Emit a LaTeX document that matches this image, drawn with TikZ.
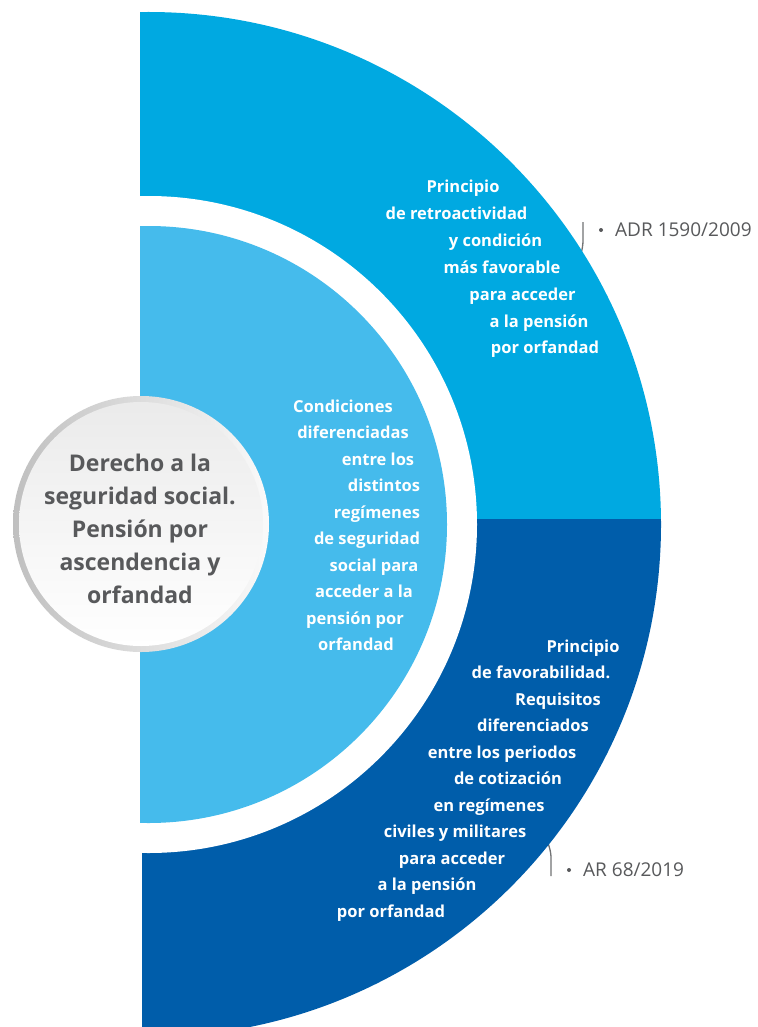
\documentclass[tikz,border=0pt]{standalone}
\usepackage{fontspec}
\setmainfont{Open Sans}
\definecolor{topblue}{HTML}{00A9E1}
\definecolor{deepblue}{HTML}{005DAA}
\definecolor{lightblue}{HTML}{45BBEC}
\definecolor{txtgrey}{HTML}{58595B}
\tikzset{
 wtxt/.style={text=white, font=\fontsize{16.5}{20}\selectfont\bfseries, inner sep=0pt, anchor=base},
 ctxt/.style={text=txtgrey, font=\fontsize{23}{30}\selectfont\bfseries, inner sep=0pt, anchor=base},
 reftxt/.style={text=txtgrey, font=\fontsize{19}{21}\selectfont, inner sep=0pt, anchor=base west},
 bracel/.style={draw=txtgrey!85, line width=1.3pt},
}
\begin{document}
\begin{tikzpicture}[x=1pt,y=-1pt]
\useasboundingbox (0,0) rectangle (757,1027);
\fill[white] (0,0) rectangle (757,1027);
% bracket lines (under the shapes)
\coordinate (b1a) at (583,222);
\coordinate (b1b) at (583,240);
\coordinate (b1c) at (577,266);
\draw[bracel] (b1a) -- (b1b) .. controls (583,250) and (580,256) .. (b1c);
\coordinate (b2a) at (543,832);
\coordinate (b2b) at (551,858);
\coordinate (b2c) at (551,876);
\draw[bracel] (b2a) .. controls (548,842) and (551,850) .. (b2b) -- (b2c);
% outer half disc
\coordinate (ctr) at (148.5,524.5);
\begin{scope}
 \clip (140,0) rectangle (757,519.5);
 \fill[topblue] (ctr) circle[radius=512.5pt];
\end{scope}
\begin{scope}
 \clip (142,519) rectangle (757,1027);
 \fill[deepblue] (ctr) circle[radius=512.5pt];
\end{scope}
% white ring and inner half disc
\begin{scope}
 \clip (140,0) rectangle (757,1027);
 \fill[white] (ctr) circle[radius=328.5pt];
 \fill[lightblue] (ctr) circle[radius=298.5pt];
\end{scope}
% central circle
\coordinate (cc) at (141,524);
\shade[shading angle=45, left color=gray!50, right color=gray!4] (cc) circle[radius=128pt];
\shade[top color=gray!16, bottom color=white] (cc) circle[radius=122pt];
\node[ctxt] (c1) at (140,471) {Derecho a la};
\node[ctxt] (c2) at (140,504) {seguridad social.};
\node[ctxt] (c3) at (140,537) {Pensión por};
\node[ctxt] (c4) at (140,570) {ascendencia y};
\node[ctxt] (c5) at (140,603) {orfandad};
% upper blue text
\foreach \t/\x/\y [count=\i] in {Principio/463/193, de retroactividad/456.5/219.8, y condición/495.5/246.6, más favorable/502/273.4, para acceder/522.5/300.2, a la pensión/539/327, por orfandad/545/353.8}
 \node[wtxt] (u\i) at (\x,\y) {\t};
% light blue text
\foreach \t/\x/\y [count=\i] in {Condiciones/343/412, diferenciadas/353/438.5, entre los/378/465, distintos/384/491.5, regímenes/377/518, de seguridad/367/544.5, social para/374/571, acceder a la/364/597.5, pensión por/355/624, orfandad/356/650.5}
 \node[wtxt] (m\i) at (\x,\y) {\t};
% dark blue text
\foreach \t/\x/\y [count=\i] in {Principio/583/652, de favorabilidad./541/678.5, Requisitos/558/705, diferenciados/533/731.5, entre los periodos/502/758, de cotización/508/784.5, en regímenes/489/811, civiles y militares/455/837.5, para acceder/452/864, a la pensión/427/890.5, por orfandad/391/917}
 \node[wtxt] (d\i) at (\x,\y) {\t};
% references
\fill[txtgrey] (601,230) circle[radius=2pt];
\node[reftxt] (r1) at (615,236) {ADR 1590/2009};
\fill[txtgrey] (569,870) circle[radius=2pt];
\node[reftxt] (r2) at (583,876) {AR 68/2019};
\end{tikzpicture}
\end{document}
